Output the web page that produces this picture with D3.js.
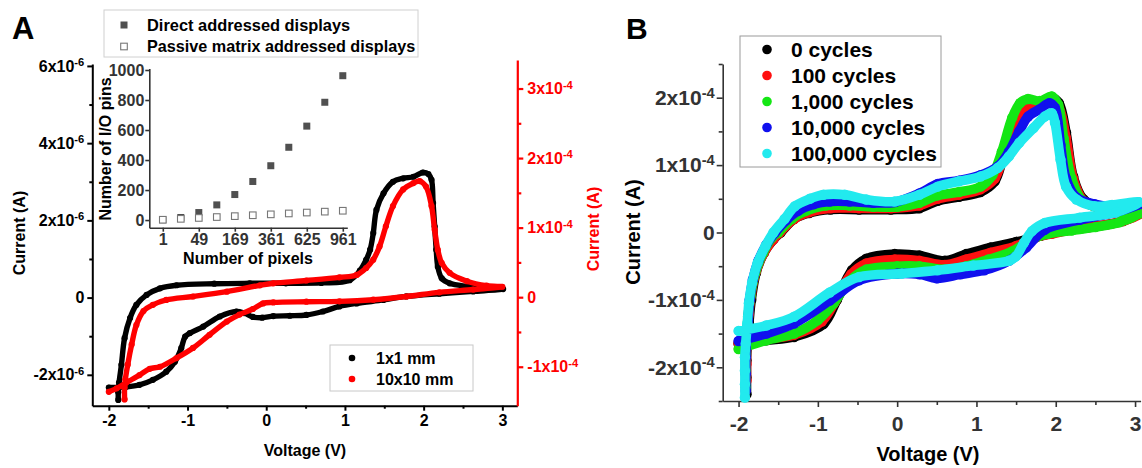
<!DOCTYPE html>
<html>
<head>
<meta charset="utf-8">
<script src="https://cdn.jsdelivr.net/npm/d3@7"></script>
<style>
  body { margin: 0; background: #fff; }
  svg text { font-family: "Liberation Sans", Arial, sans-serif; font-weight: bold; }
</style>
</head>
<body>
<svg id="chart" width="1142" height="468"></svg>
<script>
// ---------- data, panel A (current of 1x1 in 1e-6 A, 10x10 in 1e-4 A) ----------
const blackUpperA = [[-1.88,-2.65],[-1.88,-2.45],[-1.87,-2.2],[-1.84,-1.74],[-1.80,-1.05],[-1.73,-0.53],[-1.65,-0.19],[-1.52,0.07],[-1.35,0.24],[-1.14,0.32],[-0.66,0.36],[-0.21,0.37],[0.25,0.37],[0.70,0.38],[1.06,0.45],[1.19,0.70],[1.27,0.98],[1.32,1.24],[1.36,1.67],[1.40,2.27],[1.49,2.70],[1.61,3.00],[1.74,3.09],[1.87,3.13],[1.99,3.24],[2.06,3.20],[2.10,3.05],[2.12,2.45],[2.14,1.84],[2.16,1.24],[2.18,0.80],[2.23,0.50],[2.33,0.37],[2.55,0.29],[2.80,0.24],[3.01,0.22]];
const blackLowerA = [[2.63,0.16],[2.20,0.10],[1.78,0.03],[1.49,-0.06],[1.15,-0.15],[0.93,-0.23],[0.72,-0.36],[0.51,-0.45],[0.30,-0.47],[0.09,-0.48],[-0.05,-0.52],[-0.17,-0.50],[-0.28,-0.40],[-0.38,-0.36],[-0.59,-0.49],[-0.80,-0.75],[-0.97,-0.92],[-1.03,-1.01],[-1.08,-1.31],[-1.16,-1.66],[-1.27,-1.92],[-1.44,-2.13],[-1.61,-2.26],[-1.78,-2.31],[-2.00,-2.33]];
const redUpperA = [[-1.80,-1.47],[-1.80,-1.30],[-1.79,-1.18],[-1.76,-0.97],[-1.71,-0.68],[-1.65,-0.40],[-1.56,-0.20],[-1.44,-0.11],[-1.27,-0.04],[-0.93,0.01],[-0.50,0.08],[-0.08,0.17],[0.09,0.20],[0.51,0.24],[0.93,0.285],[1.15,0.32],[1.27,0.42],[1.36,0.54],[1.44,0.73],[1.52,1.02],[1.61,1.31],[1.74,1.55],[1.87,1.64],[1.95,1.67],[2.03,1.59],[2.10,1.31],[2.14,0.97],[2.18,0.68],[2.23,0.49],[2.33,0.35],[2.55,0.23],[2.80,0.165],[3.00,0.15]];
const redLowerA = [[2.63,0.11],[2.20,0.07],[1.78,0.01],[1.36,-0.036],[0.93,-0.06],[0.51,-0.065],[0.09,-0.075],[-0.04,-0.09],[-0.17,-0.17],[-0.34,-0.25],[-0.50,-0.35],[-0.72,-0.54],[-0.93,-0.73],[-1.14,-0.875],[-1.35,-1.00],[-1.48,-1.03],[-1.61,-1.12],[-1.78,-1.23],[-1.90,-1.31],[-2.00,-1.36]];

// inset
const pixelCounts = [1,16,49,100,169,256,361,484,625,784,961];
const directPins  = [2,17,50,101,170,257,362,485,626,785,962];
const passivePins = [2,8,14,20,26,32,38,44,50,56,62];
const insetTickIdx = [0,2,4,6,8,10];
const insetYTicks = [0,200,400,600,800,1000];

// ticks
const voltTicks = [-2,-1,0,1,2,3];
const voltMinor = [-1.5,-0.5,0.5,1.5,2.5];
const leftTicksA = [-2,0,2,4,6];
const leftMinorA = [-1,1,3,5];
const rightTicksA = [-1,0,1,2,3];
const rightMinorA = [-0.5,0.5,1.5,2.5];

// ---------- data, panel B (current in 1e-4 A) ----------
const cycleNames = ["0 cycles","100 cycles","1,000 cycles","10,000 cycles","100,000 cycles"];
const cycleColors = ["#000000","#ff1010","#14e614","#1010ee","#22eaee"];

const b0Upper = [[-1.90,-2.40],[-1.90,-2.15],[-1.90,-1.9],[-1.89,-1.65],[-1.87,-1.35],[-1.84,-1.0],[-1.78,-0.6],[-1.68,-0.3],[-1.56,-0.1],[-1.47,0.0],[-1.30,0.2],[-1.11,0.29],[-0.84,0.34],[-0.48,0.34],[-0.08,0.34],[0.28,0.36],[0.51,0.47],[0.78,0.53],[1.05,0.60],[1.23,0.76],[1.32,1.05],[1.45,1.55],[1.59,1.82],[1.77,1.92],[1.95,2.0],[2.04,1.92],[2.13,1.48],[2.22,0.83],[2.35,0.49],[2.58,0.36],[2.85,0.32],[3.05,0.29]];
const b0Lower = [[2.85,0.17],[2.5,0.09],[2.2,0.04],[1.95,-0.01],[1.81,-0.05],[1.50,-0.14],[1.18,-0.22],[0.87,-0.32],[0.60,-0.42],[0.28,-0.34],[-0.03,-0.32],[-0.39,-0.39],[-0.57,-0.56],[-0.76,-1.0],[-0.93,-1.36],[-1.30,-1.55],[-1.65,-1.60],[-2.0,-1.65]];
const b100Upper = [[-1.90,-2.2],[-1.90,-1.95],[-1.90,-1.7],[-1.89,-1.45],[-1.87,-1.2],[-1.84,-0.9],[-1.78,-0.58],[-1.68,-0.3],[-1.56,-0.1],[-1.48,0.0],[-1.3,0.2],[-1.11,0.3],[-0.84,0.36],[-0.48,0.36],[-0.08,0.36],[0.28,0.4],[0.51,0.5],[0.78,0.56],[1.05,0.64],[1.23,0.8],[1.33,1.1],[1.45,1.55],[1.6,1.82],[1.77,1.88],[1.95,1.92],[2.04,1.85],[2.13,1.4],[2.22,0.8],[2.35,0.47],[2.58,0.35],[2.85,0.3],[3.05,0.27]];
const b100Lower = [[2.85,0.17],[2.5,0.09],[2.2,0.04],[1.95,-0.02],[1.75,-0.07],[1.5,-0.2],[1.18,-0.3],[0.87,-0.4],[0.6,-0.48],[0.28,-0.42],[-0.03,-0.4],[-0.39,-0.46],[-0.58,-0.62],[-0.78,-1.02],[-0.95,-1.32],[-1.3,-1.52],[-1.65,-1.58],[-2.0,-1.64]];
const b1kUpper = [[-1.91,-2.3],[-1.91,-2.05],[-1.91,-1.8],[-1.90,-1.55],[-1.88,-1.25],[-1.85,-0.95],[-1.79,-0.6],[-1.69,-0.3],[-1.58,-0.08],[-1.5,0.0],[-1.33,0.2],[-1.15,0.32],[-0.9,0.4],[-0.6,0.4],[-0.3,0.38],[0.0,0.38],[0.28,0.44],[0.51,0.55],[0.78,0.6],[1.05,0.68],[1.2,0.85],[1.32,1.2],[1.45,1.7],[1.55,1.92],[1.65,1.98],[1.8,1.95],[1.95,2.02],[2.03,1.9],[2.1,1.4],[2.2,0.8],[2.33,0.48],[2.55,0.36],[2.8,0.3],[3.05,0.28]];
const b1kLower = [[2.8,0.15],[2.5,0.08],[2.2,0.03],[1.9,-0.02],[1.7,-0.1],[1.45,-0.28],[1.15,-0.4],[0.87,-0.5],[0.6,-0.55],[0.28,-0.5],[0.0,-0.5],[-0.39,-0.55],[-0.6,-0.72],[-0.8,-1.05],[-1.0,-1.3],[-1.3,-1.5],[-1.65,-1.6],[-2.0,-1.73]];
const b10kUpper = [[-1.91,-2.35],[-1.91,-2.1],[-1.91,-1.85],[-1.90,-1.6],[-1.88,-1.3],[-1.86,-1.0],[-1.82,-0.7],[-1.75,-0.42],[-1.65,-0.18],[-1.54,0.0],[-1.40,0.18],[-1.25,0.32],[-1.05,0.42],[-0.85,0.46],[-0.6,0.46],[-0.3,0.44],[-0.03,0.45],[0.28,0.58],[0.51,0.72],[0.78,0.77],[1.05,0.85],[1.27,0.98],[1.41,1.2],[1.54,1.5],[1.65,1.72],[1.8,1.83],[1.92,1.92],[1.99,1.85],[2.06,1.3],[2.13,0.8],[2.26,0.52],[2.49,0.42],[2.75,0.38],[3.05,0.42]];
const b10kLower = [[2.75,0.3],[2.31,0.19],[1.86,0.04],[1.63,-0.22],[1.41,-0.42],[1.1,-0.56],[0.8,-0.62],[0.5,-0.68],[0.28,-0.62],[0.0,-0.61],[-0.48,-0.71],[-0.85,-1.01],[-1.30,-1.35],[-1.65,-1.5],[-2.0,-1.61]];
const b100kUpper = [[-1.92,-2.45],[-1.92,-2.25],[-1.92,-2.05],[-1.92,-1.85],[-1.91,-1.65],[-1.89,-1.35],[-1.87,-1.05],[-1.83,-0.75],[-1.76,-0.45],[-1.66,-0.2],[-1.56,0.0],[-1.42,0.2],[-1.29,0.39],[-1.10,0.5],[-0.93,0.56],[-0.66,0.56],[-0.39,0.49],[-0.03,0.46],[0.28,0.56],[0.51,0.68],[0.78,0.76],[1.05,0.83],[1.27,0.96],[1.41,1.13],[1.54,1.33],[1.72,1.55],[1.86,1.72],[1.95,1.77],[1.99,1.63],[2.06,1.08],[2.13,0.68],[2.26,0.49],[2.49,0.39],[2.71,0.41],[3.05,0.45]];
const b100kLower = [[2.76,0.3],[2.3,0.22],[1.86,0.14],[1.7,0.02],[1.6,-0.15],[1.5,-0.35],[1.41,-0.42],[0.96,-0.49],[0.51,-0.56],[0.06,-0.61],[-0.48,-0.66],[-0.85,-0.89],[-1.30,-1.25],[-1.65,-1.38],[-2.0,-1.46]];

const leftTicksB = [-2,-1,0,1,2];
const leftMinorB = [-2.5,-1.5,-0.5,0.5,1.5,2.5];

const svg = d3.select("#chart");
const plain = d => String(d);

// axis helpers
function styleAxis(g, color, size, width) {
  g.select(".domain").attr("stroke", color).attr("stroke-width", width);
  g.selectAll(".tick line").attr("stroke", color).attr("stroke-width", width);
  g.selectAll(".tick text").attr("fill", color).attr("font-size", size)
    .attr("font-family", null);
}
function minor(g) { g.select(".domain").remove(); g.selectAll("text").remove(); }
function sci(g, exp) {
  g.selectAll(".tick text").each(function(d) {
    const t = d3.select(this);
    t.text(null);
    if (d === 0) { t.text("0"); return; }
    t.append("tspan").text(d + "x10");
    t.append("tspan").attr("dy", "-0.5em").attr("font-size", "0.7em").text(exp);
  });
}
function drawLoop(g, pts, x, y, color, r) {
  const line = d3.line().x(d => x(d[0])).y(d => y(d[1])).curve(d3.curveCatmullRom.alpha(0.5));
  g.append("path").datum(pts).attr("d", line)
    .attr("fill", "none").attr("stroke", color).attr("stroke-width", 2 * r)
    .attr("stroke-linejoin", "round").attr("stroke-linecap", "round");
  g.selectAll(null).data(pts).join("circle")
    .attr("cx", d => x(d[0])).attr("cy", d => y(d[1])).attr("r", r + 0.4).attr("fill", color);
}

// ================= panel A =================
const xA = d3.scaleLinear().domain([-2.21, 3.19]).range([92.3, 517.3]);
const yAL = d3.scaleLinear().domain([-2.8, 6.05]).range([405.7, 64]);
const yAR = d3.scaleLinear().domain([-1.56, 3.41]).range([405.7, 60]);

svg.append("text").attr("x", 12).attr("y", 38.5).attr("font-size", 31).text("A");

svg.append("g").attr("transform", "translate(0,405.7)")
  .call(d3.axisBottom(xA).tickValues(voltTicks).tickFormat(plain).tickSize(5).tickPadding(4).tickSizeOuter(0))
  .call(styleAxis, "#000", 16, 2);
svg.append("g").attr("transform", "translate(0,405.7)")
  .call(d3.axisBottom(xA).tickValues(voltMinor).tickSize(3).tickSizeOuter(0))
  .call(styleAxis, "#000", 16, 2).call(minor);

svg.append("g").attr("transform", "translate(92.3,0)")
  .call(d3.axisLeft(yAL).tickValues(leftTicksA).tickSize(5).tickPadding(3).tickSizeOuter(0))
  .call(styleAxis, "#000", 16, 2).call(sci, "-6");
svg.append("g").attr("transform", "translate(92.3,0)")
  .call(d3.axisLeft(yAL).tickValues(leftMinorA).tickSize(3).tickSizeOuter(0))
  .call(styleAxis, "#000", 16, 2).call(minor);

svg.append("g").attr("transform", "translate(517.3,0)")
  .call(d3.axisRight(yAR).tickValues(rightTicksA).tickSize(6).tickPadding(4).tickSizeOuter(0))
  .call(styleAxis, "#ff0000", 16, 2.2).call(sci, "-4");
svg.append("g").attr("transform", "translate(517.3,0)")
  .call(d3.axisRight(yAR).tickValues(rightMinorA).tickSize(4).tickSizeOuter(0))
  .call(styleAxis, "#ff0000", 16, 2.2).call(minor);

svg.append("text").attr("transform", "translate(25,233) rotate(-90)")
  .attr("text-anchor", "middle").attr("font-size", 16).text("Current (A)");
svg.append("text").attr("transform", "translate(599,229) rotate(-90)")
  .attr("text-anchor", "middle").attr("font-size", 16).attr("fill", "#ff0000").text("Current (A)");
svg.append("text").attr("x", 305).attr("y", 456).attr("text-anchor", "middle")
  .attr("font-size", 16).text("Voltage (V)");

const curvesA = svg.append("g");
drawLoop(curvesA, blackUpperA.concat(blackLowerA), xA, yAL, "#000", 2.7);
drawLoop(curvesA, redUpperA.concat(redLowerA), xA, yAR, "#ff0000", 2.7);

// legend A
const legA = svg.append("g");
legA.append("rect").attr("x", 330).attr("y", 345).attr("width", 143).attr("height", 46)
  .attr("fill", "#fff").attr("stroke", "#c8c8c8");
[["1x1 mm", "#000"], ["10x10 mm", "#ff0000"]].forEach((e, i) => {
  const yy = 358 + i * 21;
  legA.append("circle").attr("cx", 352).attr("cy", yy).attr("r", 3.3).attr("fill", e[1]);
  legA.append("text").attr("x", 376).attr("y", yy + 5.7).attr("font-size", 16).text(e[0]);
});

// ---------- inset ----------
const xIn = d3.scaleLinear().domain([-0.75, 10.25]).range([149.3, 347.3]);
const yIn = d3.scaleLinear().domain([-51, 1010]).range([227.7, 68.5]);

svg.append("g").attr("transform", "translate(0,227.7)")
  .call(d3.axisBottom(xIn).tickValues(insetTickIdx).tickFormat(i => pixelCounts[i])
    .tickSize(4).tickPadding(2).tickSizeOuter(0))
  .call(styleAxis, "#333", 16, 1.6);
svg.append("g").attr("transform", "translate(149.3,0)")
  .call(d3.axisLeft(yIn).tickValues(insetYTicks).tickFormat(plain).tickSize(4).tickPadding(1).tickSizeOuter(0))
  .call(styleAxis, "#333", 16, 1.6);

svg.append("text").attr("transform", "translate(111,149) rotate(-90)")
  .attr("text-anchor", "middle").attr("font-size", 16).text("Number of I/O pins");
svg.append("text").attr("x", 248).attr("y", 264).attr("text-anchor", "middle")
  .attr("font-size", 16).text("Number of pixels");

const inset = svg.append("g");
inset.selectAll(".dir").data(directPins).join("rect").attr("class", "dir")
  .attr("x", (d, i) => xIn(i) - 3.5).attr("y", d => yIn(d) - 3.5)
  .attr("width", 7).attr("height", 7).attr("fill", "#505050");
inset.selectAll(".pas").data(passivePins).join("rect").attr("class", "pas")
  .attr("x", (d, i) => xIn(i) - 3.3).attr("y", d => yIn(d) - 3.3)
  .attr("width", 6.6).attr("height", 6.6).attr("fill", "#fff").attr("stroke", "#777").attr("stroke-width", 1.1);

const legIn = svg.append("g");
legIn.append("rect").attr("x", 104).attr("y", 10).attr("width", 314).attr("height", 47)
  .attr("fill", "#fff").attr("stroke", "#d0d0d0");
legIn.append("rect").attr("x", 120.5).attr("y", 21.5).attr("width", 7).attr("height", 7).attr("fill", "#505050");
legIn.append("rect").attr("x", 120.7).attr("y", 43.2).attr("width", 6.6).attr("height", 6.6)
  .attr("fill", "#fff").attr("stroke", "#777").attr("stroke-width", 1.1);
legIn.append("text").attr("x", 147).attr("y", 30.7).attr("font-size", 16.4).text("Direct addressed displays");
legIn.append("text").attr("x", 147).attr("y", 52.2).attr("font-size", 16.2).text("Passive matrix addressed displays");

// ================= panel B =================
const xB = d3.scaleLinear().domain([-2.2, 3.07]).range([722.7, 1140.6]);
const yB = d3.scaleLinear().domain([-2.5, 2.5]).range([401, 64]);

svg.append("text").attr("x", 626).attr("y", 38.5).attr("font-size", 30).text("B");

svg.append("g").attr("transform", "translate(0,401)")
  .call(d3.axisBottom(xB).tickValues(voltTicks).tickFormat(plain).tickSize(6).tickPadding(9).tickSizeOuter(0))
  .call(styleAxis, "#333", 21, 1.6);
svg.append("g").attr("transform", "translate(0,401)")
  .call(d3.axisBottom(xB).tickValues(voltMinor).tickSize(4).tickSizeOuter(0))
  .call(styleAxis, "#333", 21, 1.6).call(minor);
svg.append("g").attr("transform", "translate(722.7,0)")
  .call(d3.axisLeft(yB).tickValues(leftTicksB).tickSize(6).tickPadding(2).tickSizeOuter(0))
  .call(styleAxis, "#333", 21, 1.6).call(sci, "-4");
svg.append("g").attr("transform", "translate(722.7,0)")
  .call(d3.axisLeft(yB).tickValues(leftMinorB).tickSize(4).tickSizeOuter(0))
  .call(styleAxis, "#333", 21, 1.6).call(minor);

svg.append("text").attr("transform", "translate(640,232) rotate(-90)")
  .attr("text-anchor", "middle").attr("font-size", 20).text("Current (A)");
svg.append("text").attr("x", 928).attr("y", 461).attr("text-anchor", "middle")
  .attr("font-size", 20).text("Voltage (V)");

const loopsB = [b0Upper.concat(b0Lower), b100Upper.concat(b100Lower), b1kUpper.concat(b1kLower),
  b10kUpper.concat(b10kLower), b100kUpper.concat(b100kLower)];
const curvesB = svg.append("g");
loopsB.forEach((pts, i) => drawLoop(curvesB, pts, xB, yB, cycleColors[i], 4.8));

const legB = svg.append("g");
legB.append("rect").attr("x", 740).attr("y", 36).attr("width", 201).attr("height", 131)
  .attr("fill", "#fff").attr("stroke", "#9a9a9a");
cycleNames.forEach((n, i) => {
  const yy = 49.5 + i * 26;
  legB.append("circle").attr("cx", 767).attr("cy", yy).attr("r", 4.8).attr("fill", cycleColors[i]);
  legB.append("text").attr("x", 791).attr("y", yy + 7.4).attr("font-size", 21).text(n);
});
</script>
</body>
</html>
